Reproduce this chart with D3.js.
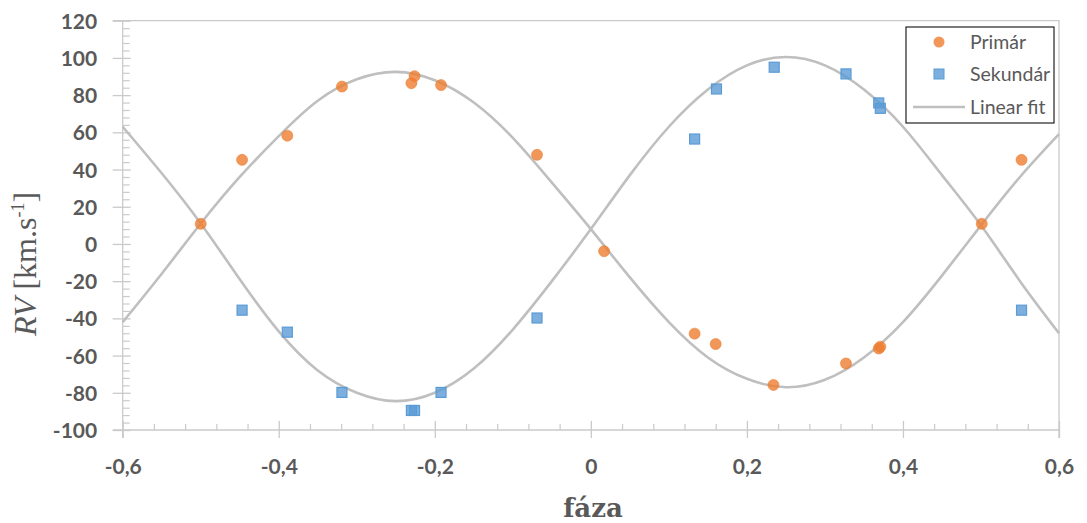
<!DOCTYPE html>
<html>
<head>
<meta charset="utf-8">
<script src="https://cdn.jsdelivr.net/npm/d3@7"></script>
<style>
  body { margin: 0; background: #fff; }
  svg { display: block; }
</style>
</head>
<body>
<div id="chart"></div>
<script>
const primPhase = [-0.500, -0.447, -0.389, -0.319, -0.230, -0.226, -0.192, -0.069, 0.017, 0.133, 0.160, 0.234, 0.327, 0.369, 0.371, 0.501, 0.552]
const primRV = [10.8, 45.2, 58.2, 84.6, 86.4, 90.2, 85.4, 47.9, -3.9, -48.2, -53.8, -75.8, -64.2, -56.2, -55.2, 10.8, 45.2]
const secPhase = [-0.447, -0.389, -0.319, -0.230, -0.226, -0.192, -0.069, 0.133, 0.161, 0.235, 0.327, 0.369, 0.371, 0.552]
const secRV = [-35.6, -47.4, -79.8, -89.5, -89.5, -79.8, -39.8, 56.4, 83.3, 95.0, 91.4, 75.8, 72.9, -35.6]

// fit curves every 0.05 in phase
const fitPhase = [-0.6, -0.55, -0.5, -0.45, -0.4, -0.35, -0.3, -0.25, -0.2, -0.15, -0.1, -0.05, 0,
  0.05, 0.1, 0.15, 0.2, 0.25, 0.3, 0.35, 0.4, 0.45, 0.5, 0.55, 0.6]
const fitPrim = [-42, -16, 11, 36, 58, 77, 88.5, 92.5, 88, 76, 57, 33, 8,
  -18, -42, -61, -72.5, -77, -73, -61, -42, -17, 10, 36, 59]
const fitSec = [63, 38, 11, -19, -47, -68, -80, -84.5, -80, -67, -46, -20, 8,
  37, 63, 83, 96, 100.5, 96, 83, 63, 37, 10, -20, -48]

const xTicks = [-0.6, -0.4, -0.2, 0, 0.2, 0.4, 0.6]
const xTickLabels = ['-0,6', '-0,4', '-0,2', '0', '0,2', '0,4', '0,6']
const yTicks = [-100, -80, -60, -40, -20, 0, 20, 40, 60, 80, 100, 120]
const legendLabels = ['Primár', 'Sekundár', 'Linear fit']

const W = 1087, H = 523
const plotL = 122.7, plotR = 1059, plotT = 20.7, plotB = 430
const ORANGE = '#ED7D31', BLUE = '#5B9BD5', FIT = '#BFBFBF', AXIS = '#CACACA', TXT = '#595959'

const svg = d3.select('#chart').append('svg').attr('width', W).attr('height', H)

const x = d3.scaleLinear().domain([-0.6, 0.6]).range([plotL, plotR])
const y = d3.scaleLinear().domain([-100, 120]).range([plotB, plotT])

// frame (top and right)
svg.append('path')
  .attr('d', `M${plotL - 10},${plotT}H${plotR}V${plotB + 8}`)
  .attr('fill', 'none').attr('stroke', AXIS).attr('stroke-width', 1.3)

// minor ticks
const xMinor = d3.range(-0.6, 0.6001, 0.04).filter(v => Math.abs(Math.round(v * 5) - v * 5) > 1e-6)
const yMinor = d3.range(-100, 120.1, 4).filter(v => v % 20 !== 0)

svg.append('g').attr('transform', `translate(0,${plotB})`)
  .call(d3.axisBottom(x).tickValues(xMinor).tickSize(-6).tickFormat(''))
  .call(g => g.select('.domain').remove())
  .selectAll('line').attr('stroke', AXIS).attr('stroke-width', 1.2)

svg.append('g').attr('transform', `translate(${plotL},0)`)
  .call(d3.axisLeft(y).tickValues(yMinor).tickSize(-7).tickFormat(''))
  .call(g => g.select('.domain').remove())
  .selectAll('line').attr('stroke', AXIS).attr('stroke-width', 1.2)

// major axes
const xAxis = svg.append('g').attr('transform', `translate(0,${plotB})`)
  .call(d3.axisBottom(x).tickValues(xTicks).tickSizeOuter(0).tickFormat((d, i) => xTickLabels[i]))
xAxis.select('.domain').attr('d', `M${plotL - 10},0H${plotR}`).attr('stroke', AXIS).attr('stroke-width', 1.3)
xAxis.selectAll('.tick line').attr('y1', -9).attr('y2', 8).attr('stroke', AXIS).attr('stroke-width', 1.3)
xAxis.selectAll('.tick text').attr('y', 44).attr('dy', 0)
  .attr('fill', TXT).attr('font-family', 'Lato, sans-serif').attr('font-weight', 'bold').attr('font-size', 21)

const yAxis = svg.append('g').attr('transform', `translate(${plotL},0)`)
  .call(d3.axisLeft(y).tickValues(yTicks).tickSizeOuter(0).tickFormat(d => String(d)))
yAxis.select('.domain').attr('d', `M0,${plotT}V${plotB + 8}`).attr('stroke', AXIS).attr('stroke-width', 1.3)
yAxis.selectAll('.tick line').attr('x1', 8).attr('x2', -10).attr('stroke', AXIS).attr('stroke-width', 1.3)
yAxis.selectAll('.tick text').attr('x', -25.5).attr('dy', '0.36em')
  .attr('fill', TXT).attr('font-family', 'Lato, sans-serif').attr('font-weight', 'bold').attr('font-size', 21)

// fit curves
const line = d3.line().x(d => x(d[0])).y(d => y(d[1])).curve(d3.curveNatural)
;[fitPrim, fitSec].forEach(vals => {
  svg.append('path')
    .datum(fitPhase.map((p, i) => [p, vals[i]]))
    .attr('d', line)
    .attr('fill', 'none').attr('stroke', FIT).attr('stroke-width', 2.6)
})

// points
svg.append('g').selectAll('circle')
  .data(primPhase.map((p, i) => [p, primRV[i]]))
  .join('circle')
  .attr('cx', d => x(d[0])).attr('cy', d => y(d[1])).attr('r', 5.5)
  .attr('fill', ORANGE).attr('fill-opacity', 0.8)
  .attr('stroke', ORANGE).attr('stroke-opacity', 0.6).attr('stroke-width', 1)

svg.append('g').selectAll('rect')
  .data(secPhase.map((p, i) => [p, secRV[i]]))
  .join('rect')
  .attr('x', d => x(d[0]) - 5).attr('y', d => y(d[1]) - 5).attr('width', 10).attr('height', 10)
  .attr('fill', BLUE).attr('fill-opacity', 0.8)
  .attr('stroke', BLUE).attr('stroke-width', 1.2)

// axis titles
svg.append('text')
  .attr('x', 593).attr('y', 517).attr('text-anchor', 'middle')
  .attr('font-family', '"DejaVu Serif", serif').attr('font-weight', 'bold').attr('font-size', 26)
  .attr('fill', TXT).text('fáza')

const yTitle = svg.append('text')
  .attr('transform', 'translate(36,264) rotate(-90)').attr('text-anchor', 'middle')
  .attr('font-family', '"Liberation Serif", serif').attr('font-size', 32).attr('fill', TXT)
yTitle.append('tspan').attr('font-style', 'italic').text('RV')
yTitle.append('tspan').text(' [km.s')
yTitle.append('tspan').attr('font-size', 18).attr('dy', -12).text('-1')
yTitle.append('tspan').attr('dy', 12).text(']')

// legend
const legend = svg.append('g').attr('transform', 'translate(906,27)')
legend.append('rect').attr('width', 148).attr('height', 96)
  .attr('fill', '#fff').attr('stroke', '#222').attr('stroke-width', 1.2)
legend.append('circle').attr('cx', 33).attr('cy', 15).attr('r', 5.5)
  .attr('fill', ORANGE).attr('fill-opacity', 0.8)
legend.append('rect').attr('x', 28).attr('y', 42).attr('width', 10).attr('height', 10)
  .attr('fill', BLUE).attr('fill-opacity', 0.8).attr('stroke', BLUE)
legend.append('line').attr('x1', 7).attr('x2', 59).attr('y1', 80).attr('y2', 80)
  .attr('stroke', FIT).attr('stroke-width', 2.6)
legendLabels.forEach((t, i) => {
  legend.append('text').attr('x', 64).attr('y', 15 + i * 32.5).attr('dy', '0.35em')
    .attr('font-family', 'Lato, sans-serif').attr('font-size', 19.5).attr('fill', TXT).text(t)
})
</script>
</body>
</html>
